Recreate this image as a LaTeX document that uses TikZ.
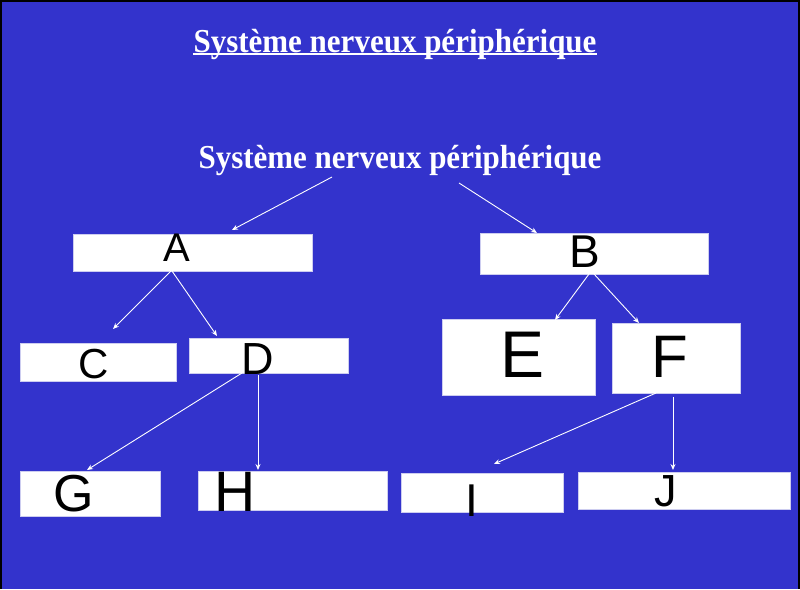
\documentclass[tikz,border=0pt]{standalone}
\usepackage{fontspec}
\setmainfont{Liberation Serif}
\newfontfamily\handfont{Liberation Sans}
\usetikzlibrary{arrows.meta}
\definecolor{bgblue}{RGB}{51,51,204}
\definecolor{boxedge}{RGB}{205,205,240}
\tikzset{
  pic/.style={x={(1pt,0)},y={(0,-1pt)}},
  box/.style={fill=white,draw=boxedge,line width=0.8pt,inner sep=0pt,anchor=north west},
  letter/.style={inner sep=0pt,anchor=center,text=black,font={\handfont\fontsize{#1}{#1}\selectfont}},
  heading/.style={inner sep=0pt,anchor=base,text=white,font={\fontsize{31}{31}\selectfont\bfseries}},
  arr/.style={draw=white,line width=0.9pt,-{Stealth[length=6pt,width=5pt]}}
}
\newcommand{\mkbox}[5]{\node[box,minimum width=#4pt,minimum height=#5pt] (#1) at (#2,#3) {};}
\newcommand{\tallhead}[1]{\scalebox{1}[1.08]{#1}}
\begin{document}
\begin{tikzpicture}[pic]
\useasboundingbox (0,0) rectangle (800,589);
\fill[bgblue] (0,0) rectangle (800,589);
\draw[black,line width=2pt] (1,589) -- (1,1) -- (799,1) -- (799,589);

% headings
\node[heading] (title) at (395,52) {\tallhead{Système nerveux périphérique}};
\draw[white,line width=1.8pt] ([yshift=-1.6pt]title.base west) -- ([yshift=-1.6pt]title.base east);
\node[heading] (root) at (400,168) {\tallhead{Système nerveux périphérique}};

% boxes
\mkbox{bA}{73}{234}{239}{37}
\mkbox{bB}{480}{233}{228}{41}
\mkbox{bC}{20}{343}{156}{38}
\mkbox{bD}{189}{338}{159}{35}
\mkbox{bE}{442}{319}{153}{76}
\mkbox{bF}{612}{323}{128}{70}
\mkbox{bG}{20}{471}{140}{45}
\mkbox{bH}{198}{471}{189}{39}
\mkbox{bI}{401}{473}{162}{39}
\mkbox{bJ}{578}{472}{212}{37}

% letters
\node[letter=40] (lA) at (177,248) {A};
\node[letter=46] (lB) at (585,252) {B};
\node[letter=42] (lC) at (94,364) {C};
\node[letter=45] (lD) at (258,359) {D};
\node[letter=66] (lE) at (523,355) {E};
\node[letter=60] (lF) at (670,357) {F};
\node[letter=52] (lG) at (74,494) {G};
\node[letter=57] (lH) at (235,492) {H};
\node[letter=46] (lI) at (472,501) {I};
\node[letter=45] (lJ) at (666,491) {J};

% connector end points
\coordinate (rA) at (332,177);
\coordinate (rB) at (459,183);
\coordinate (tA) at (232,230);
\coordinate (tB) at (537,233);
\coordinate (sA1) at (171,271);
\coordinate (sA2) at (172,271);
\coordinate (tC) at (113,329);
\coordinate (tD) at (217,336);
\coordinate (sB1) at (589,274);
\coordinate (sB2) at (594,274);
\coordinate (tE) at (555,320);
\coordinate (tF) at (639,323);
\coordinate (sD1) at (242,373);
\coordinate (sD2) at (258,375);
\coordinate (tG) at (87,470);
\coordinate (tH) at (258,470);
\coordinate (sF1) at (656,393);
\coordinate (sF2) at (673,397);
\coordinate (tI) at (494,464);
\coordinate (tJ) at (673,470);

% connectors
\draw[arr] (rA) -- (tA);
\draw[arr] (rB) -- (tB);
\draw[arr] (sA1) -- (tC);
\draw[arr] (sA2) -- (tD);
\draw[arr] (sB1) -- (tE);
\draw[arr] (sB2) -- (tF);
\draw[arr] (sD1) -- (tG);
\draw[arr] (sD2) -- (tH);
\draw[arr] (sF1) -- (tI);
\draw[arr] (sF2) -- (tJ);
\end{tikzpicture}
\end{document}
